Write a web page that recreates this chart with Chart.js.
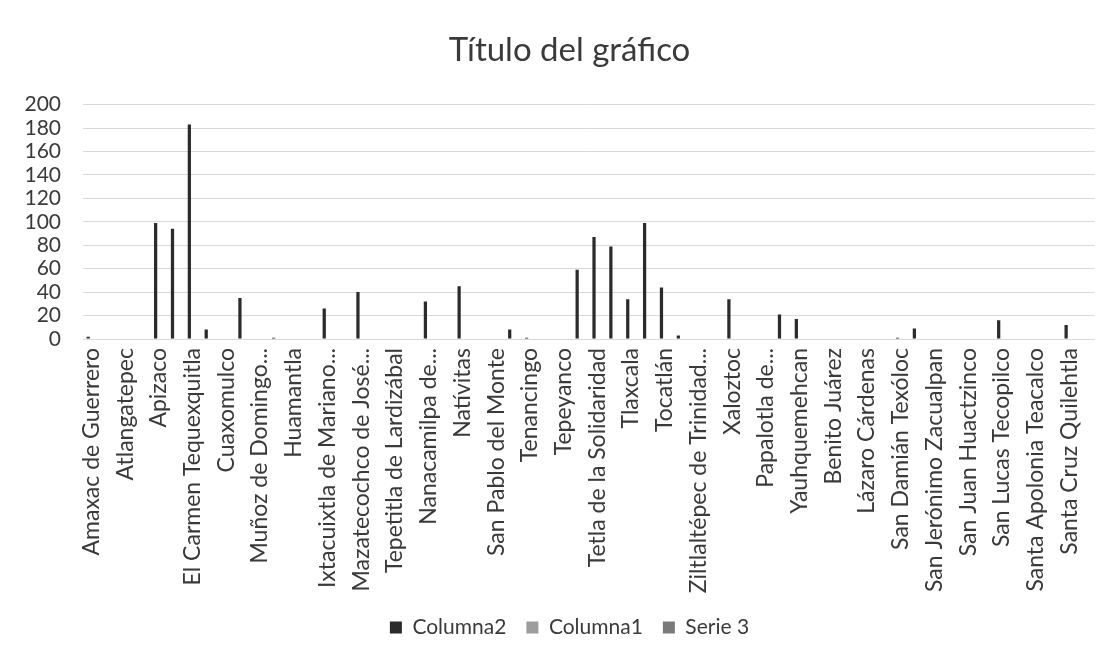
<!DOCTYPE html>
<html>
<head>
<meta charset="utf-8">
<script src="https://cdn.jsdelivr.net/npm/chart.js@4.4.1/dist/chart.umd.min.js"></script>
<style>
  html, body { margin: 0; padding: 0; background: #fff; }
  #wrap { width: 1115px; height: 660px; }
</style>
</head>
<body>
<div id="wrap"><canvas id="chart" width="1115" height="660"></canvas></div>
<script>
// municipios (the chart only prints every second name, truncated ones as shown)
const categories = [
  'Amaxac de Guerrero', 'Apetatitlán de Antonio Carvajal', 'Atlangatepec', 'Atltzayanca',
  'Apizaco', 'Calpulalpan', 'El Carmen Tequexquitla', 'Cuapiaxtla',
  'Cuaxomulco', 'Chiautempan', 'Muñoz de Domingo...', 'Españita',
  'Huamantla', 'Hueyotlipan', 'Ixtacuixtla de Mariano...', 'Ixtenco',
  'Mazatecochco de José...', 'Contla de Juan Cuamatzi', 'Tepetitla de Lardizábal', 'Sanctórum de Lázaro Cárdenas',
  'Nanacamilpa de...', 'Acuamanala de Miguel Hidalgo', 'Natívitas', 'Panotla',
  'San Pablo del Monte', 'Santa Cruz Tlaxcala', 'Tenancingo', 'Teolocholco',
  'Tepeyanco', 'Terrenate', 'Tetla de la Solidaridad', 'Tetlatlahuca',
  'Tlaxcala', 'Tlaxco', 'Tocatlán', 'Totolac',
  'Ziltlaltépec de Trinidad...', 'Tzompantepec', 'Xaloztoc', 'Xaltocan',
  'Papalotla de...', 'Xicohtzinco', 'Yauhquemehcan', 'Zacatelco',
  'Benito Juárez', 'Emiliano Zapata', 'Lázaro Cárdenas', 'La Magdalena Tlaltelulco',
  'San Damián Texóloc', 'San Francisco Tetlanohcan', 'San Jerónimo Zacualpan', 'San José Teacalco',
  'San Juan Huactzinco', 'San Lorenzo Axocomanitla', 'San Lucas Tecopilco', 'Santa Ana Nopalucan',
  'Santa Apolonia Teacalco', 'Santa Catarina Ayometla', 'Santa Cruz Quilehtla', 'Santa Isabel Xiloxoxtla'
]

const columna2 = [
  2, 0, 0, 0, 99, 94, 183, 8, 0, 35,
  0, 1, 0, 0, 26, 0, 40, 0, 0, 0,
  32, 0, 45, 0, 0, 8, 1, 0, 0, 59,
  87, 79, 34, 99, 44, 3, 0, 0, 34, 0,
  0, 21, 17, 0, 0, 0, 0, 0, 1, 9,
  0, 0, 0, 0, 16, 0, 0, 0, 12, 0
]
const columna1 = [
  0, 0, 0, 0, 0, 0, 0, 0, 0, 0,
  0, 0, 0, 0, 0, 0, 0, 0, 0, 0,
  0, 0, 0, 0, 0, 0, 0, 0, 0, 0,
  0, 0, 0, 0, 0, 0, 0, 0, 0, 0,
  0, 0, 0, 0, 0, 0, 0, 0, 0, 0,
  0, 0, 0, 0, 0, 0, 0, 0, 0, 0
]
const serie3 = [
  0, 0, 0, 0, 0, 0, 0, 0, 0, 0,
  0, 0, 0, 0, 0, 0, 0, 0, 0, 0,
  0, 0, 0, 0, 0, 0, 0, 0, 0, 0,
  0, 0, 0, 0, 0, 0, 0, 0, 0, 0,
  0, 0, 0, 0, 0, 0, 0, 0, 0, 0,
  0, 0, 0, 0, 0, 0, 0, 0, 0, 0
]

const Y_MIN = 0, Y_MAX = 200, Y_STEP = 20

const FONT = 'Lato, "Open Sans", sans-serif'
const TEXT = '#3a3a3a'
const GRID = '#d9d9d9'

new Chart(document.getElementById('chart'), {
  type: 'bar',
  data: {
    labels: categories,
    datasets: [
      { label: 'Columna2', data: columna2, backgroundColor: '#2b2b2b' },
      { label: 'Columna1', data: columna1, backgroundColor: '#9d9d9d' },
      { label: 'Serie 3', data: serie3, backgroundColor: '#7a7a7a' },
    ],
  },
  options: {
    responsive: false,
    animation: false,
    categoryPercentage: 0.578,
    barPercentage: 1,
    // left padding > right so title + legend sit a bit right of centre, like the original
    layout: { padding: { left: 24, right: 0, top: 0, bottom: 12 } },
    plugins: {
      title: {
        display: true,
        text: 'Título del gráfico',
        color: TEXT,
        font: { family: FONT, size: 33, weight: 'normal', lineHeight: 1.2 },
        padding: { top: 31, bottom: 34 },
      },
      legend: {
        position: 'bottom',
        labels: {
          color: TEXT,
          font: { family: FONT, size: 21 },
          boxWidth: 12,
          boxHeight: 12,
          padding: 20,
        },
      },
      tooltip: { enabled: false },
    },
    scales: {
      x: {
        grid: { display: false },
        border: { color: GRID },
        ticks: {
          autoSkip: false,
          minRotation: 90,
          maxRotation: 90,
          padding: 1,
          color: TEXT,
          font: { family: FONT, size: 23 },
          callback: (v, i) => i % 2 === 0 ? categories[i] : '',
        },
        afterFit: s => { s.height = 258 },
      },
      y: {
        min: Y_MIN,
        max: Y_MAX,
        grid: { color: GRID, drawTicks: false },
        border: { display: false },
        ticks: {
          stepSize: Y_STEP,
          autoSkip: false,
          padding: 22,
          color: TEXT,
          font: { family: FONT, size: 21 },
        },
        afterFit: s => { s.width = 59 },
      },
      // empty spacer on the right so the plot stops short of the edge
      spacer: {
        type: 'linear',
        position: 'right',
        grid: { display: false },
        border: { display: false },
        ticks: { display: false },
        afterFit: s => { s.width = 20 },
      },
    },
  },
})
</script>
</body>
</html>
